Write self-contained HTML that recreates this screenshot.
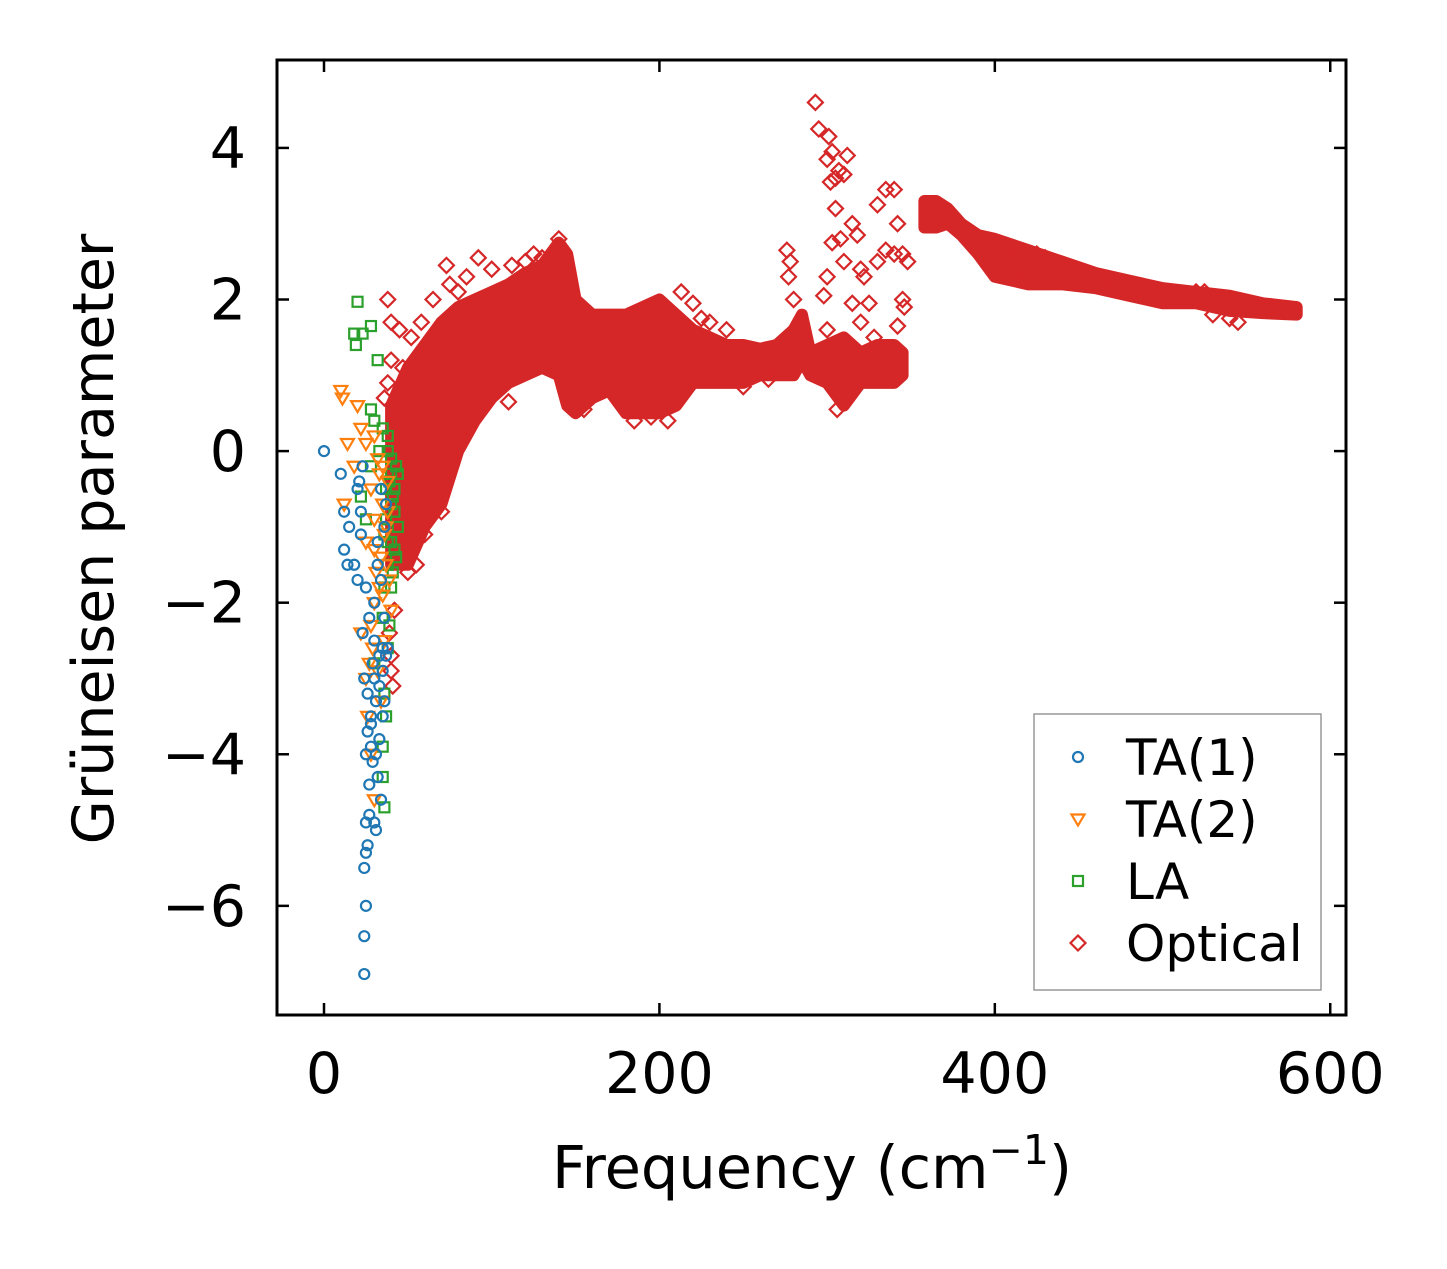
<!DOCTYPE html>
<html><head><meta charset="utf-8">
<style>
html,body{margin:0;padding:0;background:#fff;}
svg text{font-family:"DejaVu Sans","Liberation Sans",sans-serif;}
</style></head>
<body>
<svg id="chart" width="1447" height="1264" xmlns="http://www.w3.org/2000/svg">
<g id="plot"></g>
</svg>
<script>
// ---- data ----
const xTicks = [0, 200, 400, 600];
const yTicks = [4, 2, 0, -2, -4, -6];
const legendLabels = ["TA(1)", "TA(2)", "LA", "Optical"];

const ta1X = [0,10,12,15,18,20,22,23,24,25,25,25,24,25,24,24,26,27,28,30,30,32,33,35,35,32,30,28,36,34,20,22,12,14,25,27,29,31,33,29,27,31,26,38,36,34,32,37,21,23,26,28,30,33,35,37,36,34,31];
const ta1Y = [0,-0.3,-0.8,-1,-1.5,-0.5,-0.8,-2.4,-3,-4,-4.9,-5.3,-5.5,-6,-6.4,-6.9,-5.2,-4.8,-3.5,-3,-2,-1.5,-2.7,-2.6,-3.5,-4.3,-4.9,-3.9,-1,-0.5,-1.7,-1.1,-1.3,-1.5,-1.8,-2.2,-2.8,-3.3,-3.8,-4.1,-4.4,-5,-3.7,-2.6,-2.2,-1.7,-1.2,-0.7,-0.4,-0.2,-3.2,-3.6,-2.5,-3.1,-2.9,-2.7,-3.3,-4.6,-4.0];

const ta2X = [10,11,12,14,18,20,22,25,28,30,30,33,35,33,30,28,25,26,28,30,35,37,36,38,25,22,32,34,30,32,36,38,40,34,31,29,27,35,37,39];
const ta2Y = [0.8,0.7,-0.7,0.1,-0.2,0.6,0.3,0.1,-0.5,-0.9,-1.3,-0.3,-0.7,-1.8,-2,-2.3,-3,-3.5,-4,-4.6,-1.9,-1.5,-2.5,-0.8,-1.2,-2.4,-2.9,-3.3,0.2,-0.1,-1.1,-0.4,-2.1,-1.4,-1.6,-2.6,-2.8,-0.2,-1.0,-1.7];

const laX = [20,18,19,23,28,32,28,30,35,38,40,42,40,38,36,35,38,30,36,37,35,35,36,42,44,40,38,33,28,22,25,40,39,41,43,42,41,39,37,36,40,43,44,38,37];
const laY = [1.97,1.55,1.4,1.55,1.65,1.2,0.55,0.4,0.3,0.2,-0.3,-0.8,-1.2,-1.5,-1.8,-2.2,-2.6,-2.8,-3.2,-3.5,-3.9,-4.3,-4.7,-0.5,-1,-0.1,0,0,-0.2,-0.6,-0.9,-1.8,-2.3,-0.6,-0.2,-1.3,-1.6,-0.4,-0.9,-1.1,-0.7,-1.4,-0.3,-1.2,-0.5];

// optical dense band envelopes (frequency, lower, upper)
const bandAFreq = [40,50,60,70,80,90,100,110,120,130,140,145,150,160,170,180,190,200,210,220,230,240,250,260,270,280,285,290,300,310,320,330,340,345];
const bandALow  = [-1.5,-1.5,-1.0,-0.7,0.0,0.4,0.7,0.9,1.0,1.1,1.0,0.6,0.5,0.7,0.8,0.5,0.5,0.5,0.6,0.9,0.9,0.9,0.9,1.0,1.0,1.0,1.2,1.0,0.9,0.6,0.9,0.9,0.9,1.0];
const bandAHigh = [0.6,1.1,1.4,1.7,1.9,2.0,2.1,2.2,2.35,2.45,2.75,2.6,2.0,1.8,1.8,1.8,1.9,2.0,1.8,1.6,1.5,1.4,1.4,1.35,1.4,1.6,1.8,1.3,1.4,1.5,1.3,1.4,1.4,1.3];
const bandBFreq = [358,365,372,380,390,400,420,440,460,480,500,520,540,560,580];
const bandBLow  = [2.95,2.95,3.0,2.85,2.6,2.3,2.2,2.2,2.15,2.05,1.95,1.95,1.85,1.82,1.8];
const bandBHigh = [3.3,3.3,3.2,3.0,2.85,2.8,2.65,2.5,2.35,2.25,2.15,2.1,2.05,1.95,1.9];

const optX = [38,40,45,40,38,36,42,42,40,41,40,39,45,50,55,60,70,73,75,80,85,92,100,110,112,120,125,130,140,213,220,225,230,240,276,278,277,280,293,295,301,303,300,305,302,307,310,312,305,303,308,310,300,298,315,318,320,322,315,320,325,328,330,335,340,342,345,348,340,345,346,342,300,306,310,330,335,400,410,425,430,415,440,530,540,545,520,525,47,52,58,65,155,185,195,205,250,265];
const optY = [2.0,1.7,1.6,1.2,0.9,0.7,-0.5,-2.1,-2.7,-3.1,-2.9,-2.4,-1.3,-1.6,-1.5,-1.1,-0.8,2.45,2.2,2.1,2.3,2.55,2.4,0.65,2.45,2.5,2.6,2.55,2.8,2.1,1.95,1.75,1.7,1.6,2.65,2.5,2.3,2.0,4.6,4.25,4.15,3.95,3.85,3.6,3.55,3.7,3.65,3.9,3.2,2.75,2.8,2.5,2.3,2.05,3.0,2.85,2.4,2.3,1.95,1.7,1.95,1.5,3.25,3.45,3.45,3.0,2.6,2.5,2.6,2.0,1.9,1.65,1.6,0.55,0.7,2.5,2.65,2.65,2.55,2.6,2.55,2.4,2.25,1.8,1.75,1.7,2.1,2.1,1.1,1.5,1.7,2.0,0.55,0.4,0.45,0.4,0.85,0.95];

// ---- axes ----
const L=277, R=1346, T=60, B=1015;
const xMin=-28.03, xMax=609.4, yMin=-7.44, yMax=5.16;
const xs = v => L + (v - xMin) / (xMax - xMin) * (R - L);
const ys = v => B - (v - yMin) / (yMax - yMin) * (B - T);

const NS="http://www.w3.org/2000/svg";
const plot=document.getElementById('plot');
function mk(tag, attrs, parent){const e=document.createElementNS(NS,tag);for(const k in attrs)e.setAttribute(k,attrs[k]);(parent||plot).appendChild(e);return e;}

const RED="#d62728", BLUE="#1f77b4", ORANGE="#ff7f0e", GREEN="#2ca02c";

function band(fr, lo, hi, name){
  let pts=[];
  for(let i=0;i<fr.length;i++) pts.push(xs(fr[i])+','+ys(hi[i]));
  for(let i=fr.length-1;i>=0;i--) pts.push(xs(fr[i])+','+ys(lo[i]));
  const p=mk('polygon',{points:pts.join(' '),fill:RED,stroke:RED,'stroke-width':12,'stroke-linejoin':'round'});
  
  
}

function marker(kind, cx, cy, color, parent){
  let e;
  if(kind==='circle') e=mk('circle',{cx:cx,cy:cy,r:5,fill:'none',stroke:color,'stroke-width':2.2},parent);
  else if(kind==='tri') e=mk('polygon',{points:`${cx-6.5},${cy-4.5} ${cx+6.5},${cy-4.5} ${cx},${cy+6.5}`,fill:'none',stroke:color,'stroke-width':2.2},parent);
  else if(kind==='square') e=mk('rect',{x:cx-5,y:cy-5,width:10,height:10,fill:'none',stroke:color,'stroke-width':2.2},parent);
  else e=mk('polygon',{points:`${cx},${cy-7.5} ${cx+7.5},${cy} ${cx},${cy+7.5} ${cx-7.5},${cy}`,fill:'none',stroke:color,'stroke-width':2.2},parent);
  return e;
}

band(bandAFreq, bandALow, bandAHigh, 'optical-dense-band-low');
band(bandBFreq, bandBLow, bandBHigh, 'optical-dense-band-high');
for(let i=0;i<optX.length;i++){
  const m=marker('diamond', xs(optX[i]), ys(optY[i]), RED);
  
  
}
for(let i=0;i<laX.length;i++){
  const m=marker('square', xs(laX[i]), ys(laY[i]), GREEN);
  
  
}
for(let i=0;i<ta2X.length;i++){
  const m=marker('tri', xs(ta2X[i]), ys(ta2Y[i]), ORANGE);
  
  
}
for(let i=0;i<ta1X.length;i++){
  const m=marker('circle', xs(ta1X[i]), ys(ta1Y[i]), BLUE);
  
  
}

const frame=mk('rect',{x:L,y:T,width:R-L,height:B-T,fill:'none',stroke:'#000','stroke-width':3});



xTicks.forEach(v=>{
  const x=xs(v);
  mk('line',{x1:x,y1:B,x2:x,y2:B-12,stroke:'#000','stroke-width':2.5});
  mk('line',{x1:x,y1:T,x2:x,y2:T+12,stroke:'#000','stroke-width':2.5});
  const t=mk('text',{x:x,y:1093,'text-anchor':'middle','font-size':57,fill:'#000'});
  t.textContent=String(v);
  
  
});
yTicks.forEach(v=>{
  const y=ys(v);
  mk('line',{x1:L,y1:y,x2:L+12,y2:y,stroke:'#000','stroke-width':2.5});
  mk('line',{x1:R,y1:y,x2:R-12,y2:y,stroke:'#000','stroke-width':2.5});
  const t=mk('text',{x:246,y:y+20,'text-anchor':'end','font-size':57,fill:'#000'});
  t.textContent=(v<0?'\u2212':'')+Math.abs(v);
  
  
});

const xt=mk('text',{x:812,y:1188,'text-anchor':'middle','font-size':59,fill:'#000'},document.getElementById('chart'));
xt.innerHTML='Frequency (cm<tspan dy="-24" font-size="41">\u22121</tspan><tspan dy="24">)</tspan>';


const yt=mk('text',{x:0,y:0,'text-anchor':'middle','font-size':57,fill:'#000',transform:'translate(113,539) rotate(-90)'},document.getElementById('chart'));
yt.textContent='Grüneisen parameter';



const lg=mk('g',{});


mk('rect',{x:1034,y:714,width:287,height:276,fill:'#fff','fill-opacity':0.8,stroke:'#999','stroke-width':1.5},lg);
const kinds=['circle','tri','square','diamond'], cols=[BLUE,ORANGE,GREEN,RED];
legendLabels.forEach((lab,i)=>{
  const y=757+i*62;
  const m=marker(kinds[i],1078,y,cols[i],lg);
  
  
  const t=mk('text',{x:1126,y:y+18,'font-size':50,fill:'#000'},lg);
  t.textContent=lab;
  
  
});
</script>
</body></html>
